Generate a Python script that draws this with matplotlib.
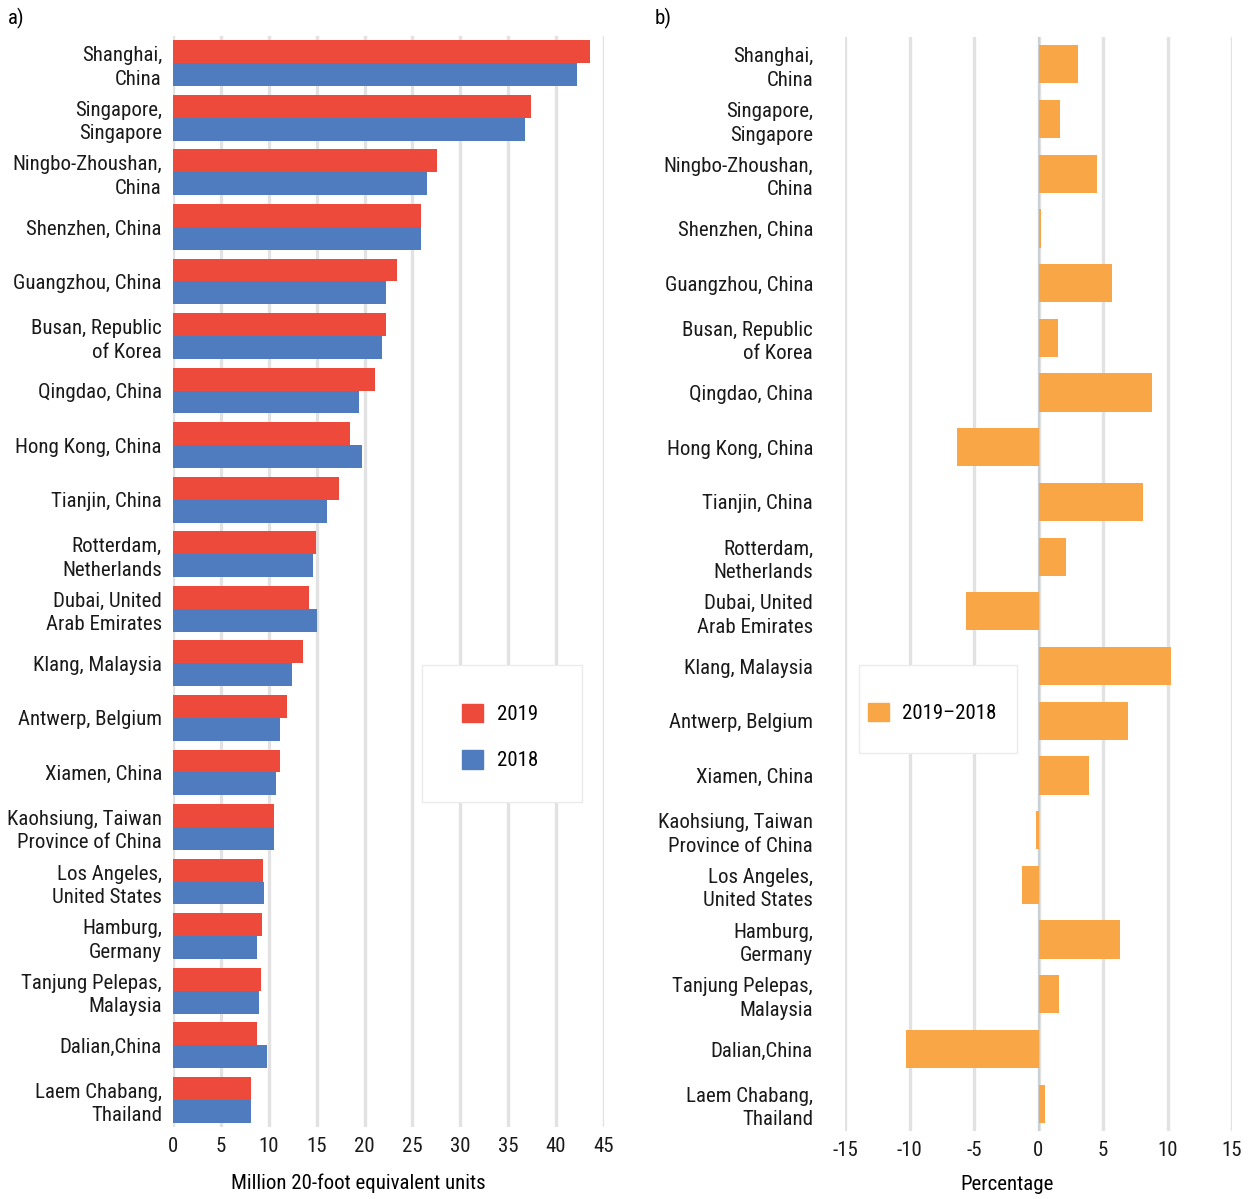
import numpy as np
import matplotlib.pyplot as plt
from matplotlib.patches import Patch, Rectangle

plt.rcParams['font.family'] = ['Roboto Condensed', 'Archivo Narrow', 'PT Sans Narrow',
                               'Barlow Condensed', 'DejaVu Sans']
plt.rcParams['axes.unicode_minus'] = False

ports = ['Shanghai,\nChina', 'Singapore,\nSingapore', 'Ningbo-Zhoushan,\nChina',
         'Shenzhen, China', 'Guangzhou, China', 'Busan, Republic\nof Korea',
         'Qingdao, China', 'Hong Kong, China', 'Tianjin, China',
         'Rotterdam,\nNetherlands', 'Dubai, United\nArab Emirates', 'Klang, Malaysia',
         'Antwerp, Belgium', 'Xiamen, China', 'Kaohsiung, Taiwan\nProvince of China',
         'Los Angeles,\nUnited States', 'Hamburg,\nGermany', 'Tanjung Pelepas,\nMalaysia',
         'Dalian,China', 'Laem Chabang,\nThailand']

teu_2019 = [43.5, 37.4, 27.6, 25.9, 23.4, 22.2, 21.1, 18.5, 17.3, 14.9,
            14.2, 13.6, 11.9, 11.2, 10.5, 9.4, 9.3, 9.2, 8.8, 8.1]
teu_2018 = [42.2, 36.8, 26.5, 25.9, 22.2, 21.8, 19.4, 19.7, 16.1, 14.6,
            15.0, 12.4, 11.2, 10.8, 10.5, 9.5, 8.8, 9.0, 9.8, 8.1]
pct_change = [3.1, 1.7, 4.5, 0.2, 5.7, 1.55, 8.8, -6.3, 8.1, 2.1,
              -5.6, 10.3, 6.9, 3.9, -0.2, -1.3, 6.3, 1.6, -10.3, 0.5]

red = '#EE4A3B'
blue = '#4E7CBE'
orange = '#F9A746'
grid_c = '#E2E2E2'

W, H = 1248, 1199
fig = plt.figure(figsize=(W / 100, H / 100), dpi=100)


def px_axes(x0, y0, x1, y1):
    return fig.add_axes([x0 / W, 1 - y1 / H, (x1 - x0) / W, (y1 - y0) / H])


def px_box(x0, y0, x1, y1):
    # white legend box, drawn over the grid
    fig.add_artist(Rectangle((x0 / W, 1 - y1 / H), (x1 - x0) / W, (y1 - y0) / H,
                             transform=fig.transFigure, facecolor='white',
                             edgecolor='#EBEBEB', lw=1, zorder=3))


y = np.arange(len(ports))

# panel a
ax1 = px_axes(173, 36, 604, 1127)
bh = 0.42
ax1.barh(y - bh / 2, teu_2019, height=bh, color=red, zorder=2)
ax1.barh(y + bh / 2, teu_2018, height=bh, color=blue, zorder=2)
ax1.set_xlim(0, 45)
ax1.set_ylim(len(ports) - 0.5, -0.5)
ax1.set_xticks(np.arange(0, 46, 5))
ax1.set_yticks(y)
ax1.set_yticklabels(ports, ha='right', multialignment='right', linespacing=1.3)
ax1.set_xlabel('Million 20-foot equivalent units', fontsize=15)
ax1.xaxis.set_label_coords(0.43, -0.043)

# panel b
ax2 = px_axes(845, 37, 1232, 1131)
ax2.barh(y, pct_change, height=0.7, color=orange, zorder=2)
ax2.axvline(0, color='#C8D0D8', lw=1.5, zorder=1.5)
ax2.set_xlim(-15, 15)
ax2.set_ylim(len(ports) - 0.5, -0.5)
ax2.set_xticks(np.arange(-15, 16, 5))
ax2.set_yticks(y)
ax2.set_yticklabels(ports, ha='right', multialignment='right', linespacing=1.3)
ax2.set_xlabel('Percentage', fontsize=15)
ax2.xaxis.set_label_coords(0.42, -0.040)

for ax, pad in ((ax1, 8), (ax2, 23)):
    for s in ax.spines.values():
        s.set_visible(False)
    ax.grid(axis='x', color=grid_c, lw=2.4, zorder=0)
    ax.set_axisbelow(True)
    ax.tick_params(axis='both', length=0, labelsize=15, colors='#1a1a1a')
    ax.tick_params(axis='y', pad=pad)
    ax.tick_params(axis='x', pad=7)

# legends
px_box(422, 665, 582, 802)
fig.legend(handles=[Patch(color=red, label='2019'), Patch(color=blue, label='2018')],
           loc='center left', bbox_to_anchor=(462 / W, 1 - 737 / H),
           fontsize=15, frameon=False, handlelength=1.0, handleheight=1.0,
           handletextpad=0.7, borderpad=0, labelspacing=1.25, borderaxespad=0)
px_box(859, 665, 1017, 753)
fig.legend(handles=[Patch(color=orange, label='2019\u20132018')],
           loc='center left', bbox_to_anchor=(868 / W, 1 - 713 / H),
           fontsize=15, frameon=False, handlelength=1.0, handleheight=1.0,
           handletextpad=0.65, borderpad=0, borderaxespad=0)

fig.text(8 / W, 1 - 18 / H, 'a)', fontsize=15, va='center')
fig.text(655 / W, 1 - 18 / H, 'b)', fontsize=15, va='center')

fig.savefig('out.png', dpi=100)
